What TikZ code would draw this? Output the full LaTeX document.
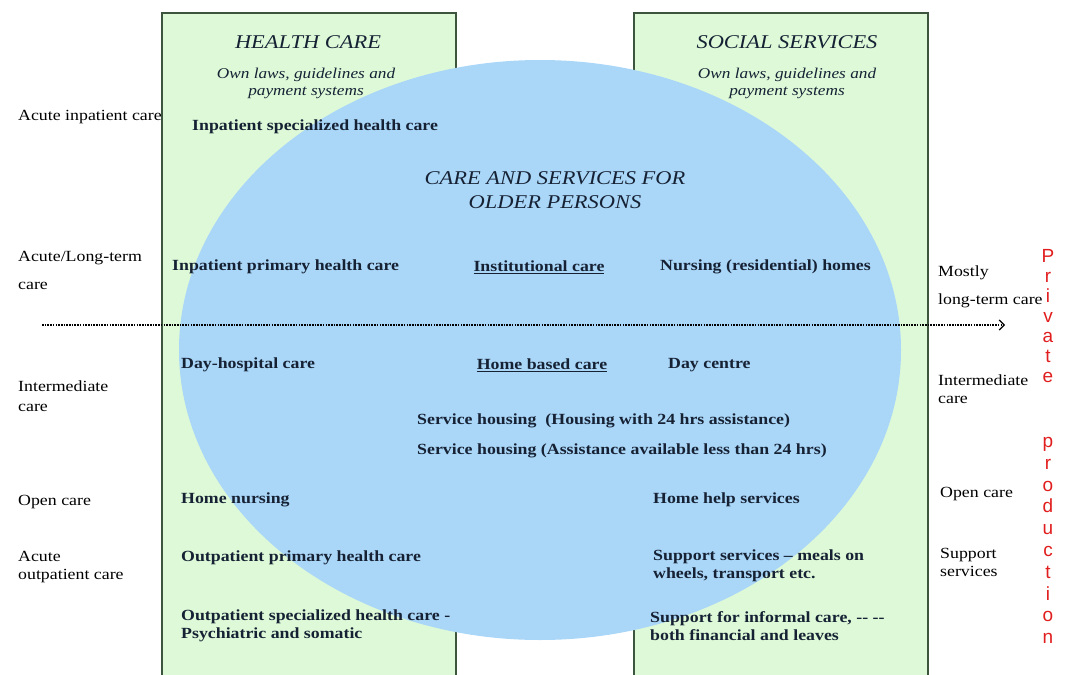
\documentclass[tikz,border=0pt]{standalone}
\usepackage{fontspec}
\setmainfont{Liberation Serif}[FakeStretch=1.15]
\newfontfamily\redfont{Liberation Sans}
\usetikzlibrary{arrows, arrows.meta}

\definecolor{boxgreen}{RGB}{221,249,216}
\definecolor{boxline}{RGB}{60,85,60}
\definecolor{ovalblue}{RGB}{170,214,248}
\definecolor{inktext}{RGB}{22,34,52}
\definecolor{privred}{RGB}{225,30,30}

\begin{document}
\begin{tikzpicture}[x=1pt, y=-1pt,
    lbl/.style={anchor=west, inner sep=0pt, align=left, font=\fontsize{15.5}{18}\selectfont},
    item/.style={anchor=west, inner sep=0pt, align=left, text=inktext, font=\fontsize{15.5}{18}\selectfont\bfseries},
    head/.style={inner sep=0pt, align=center, text=inktext, font=\fontsize{19.5}{24}\selectfont\itshape},
    sub/.style={inner sep=0pt, align=center, text=inktext, font=\fontsize{15}{17}\selectfont\itshape},
    letter/.style={inner sep=0pt, text height=13pt, text depth=4pt, text=privred, font=\fontsize{19}{19}\selectfont\redfont}]
    \useasboundingbox (0,0) rectangle (1072,675);

    % Care levels on the left
    \node[lbl] (acutein) at (18,117) {Acute inpatient care};
    \node[lbl] (acutelong) at (18,270) {Acute/Long-term\\[10pt]care};
    \node[lbl] (interL) at (18,396) {Intermediate\\[2pt]care};
    \node[lbl] (openL) at (18,502) {Open care};
    \node[lbl] (acuteout) at (18,567) {Acute\\outpatient care};

    % The two sectors
    \fill[boxgreen] (162,676) rectangle (456,13);
    \fill[boxgreen] (634,676) rectangle (928,13);
    \draw[boxline, line width=1.6pt] (162,676) -- (162,13) -- (456,13) -- (456,676);
    \draw[boxline, line width=1.6pt] (634,676) -- (634,13) -- (928,13) -- (928,676);

    % Care and services oval
    \fill[ovalblue] (540,350) ellipse [x radius=361, y radius=290];

    % Headings
    \node[head] (health) at (308,42) {HEALTH CARE};
    \node[sub] (healthlaw) at (306,83) {Own laws, guidelines and\\payment systems};
    \node[head] (social) at (787,42) {SOCIAL SERVICES};
    \node[sub] (sociallaw) at (787,83) {Own laws, guidelines and\\payment systems};
    \node[head] (older) at (555,190) {CARE AND SERVICES FOR\\OLDER PERSONS};

    % Services
    \node[item] (inspec) at (192,127) {Inpatient specialized health care};
    \node[item] (inprim) at (172,267) {Inpatient primary health care};
    \node[item, anchor=center] (instit) at (539,267) {\underline{Institutional care}};
    \node[item] (nursing) at (660,267) {Nursing (residential) homes};
    \node[item] (dayhosp) at (181,365) {Day-hospital care};
    \node[item, anchor=center] (homebased) at (542,365) {\underline{Home based care}};
    \node[item] (daycentre) at (668,365) {Day centre};
    \node[item] (house24) at (417,421) {Service housing\ \ (Housing with 24 hrs assistance)};
    \node[item] (houseless) at (417,451) {Service housing (Assistance available less than 24 hrs)};
    \node[item] (homenurse) at (181,500) {Home nursing};
    \node[item] (homehelp) at (653,500) {Home help services};
    \node[item] (outprim) at (181,558) {Outpatient primary health care};
    \node[item] (support) at (653,566) {Support services -- meals on\\wheels, transport etc.};
    \node[item] (outspec) at (181,626) {Outpatient specialized health care -\\Psychiatric and somatic};
    \node[item] (informal) at (650,626) {Support for informal care, -{}- -{}-\\both financial and leaves};

    % Care levels on the right
    \node[lbl] (mostly) at (938,287) {Mostly\\[10pt]long-term care};
    \node[lbl] (interR) at (938,389) {Intermediate\\care};
    \node[lbl] (openR) at (940,494) {Open care};
    \node[lbl] (supportR) at (940,562) {Support\\services};

    % Institutional / home based divide
    \coordinate (dashL) at (42,325);
    \coordinate (dashR) at (1005,325);
    \draw[-{Straight Barb[length=5pt, width=10pt]}, line width=1.2pt, dash pattern=on 1.6pt off 1.1pt] (dashL) -- (dashR);

    % Private production
    \foreach \ch [count=\i] in {P,r,i,v,a,t,e}
        \node[letter] (priv\i) at (1048,{258+20*(\i-1)}) {\ch};
    \foreach \ch [count=\i] in {p,r,o,d,u,c,t,i,o,n}
        \node[letter] (prod\i) at (1048,{443+21.8*(\i-1)}) {\ch};
\end{tikzpicture}
\end{document}
